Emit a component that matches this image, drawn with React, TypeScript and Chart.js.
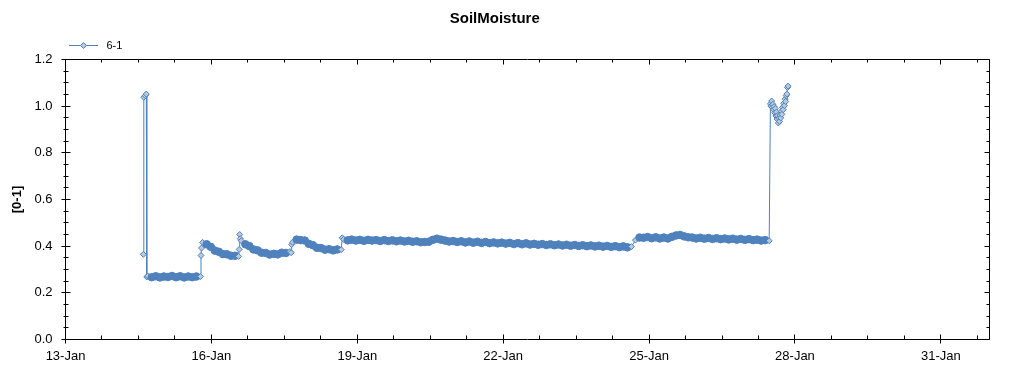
import React, { useEffect, useRef } from 'react';
import { Chart, registerables } from 'chart.js';

Chart.register(...registerables);

// ---------- text ----------
const chartTitle = 'SoilMoisture';
const seriesLabel = '6-1';
const yAxisTitle = '[0-1]';
const monthName = 'Jan';

// ---------- axes (day of January) ----------
const xMinDay = 13;
const xMaxDay = 32;
const xTickDays = [13, 16, 19, 22, 25, 28, 31];
const xMinorStepDays = 0.75;
const yMin = 0;
const yMax = 1.2;
const yStep = 0.2;
const yMinorStep = 0.05;

// ---------- data ----------
// isolated readings around rapid changes: day of January, value
const jumpDays = [14.600, 14.6105, 14.640, 14.6615, 14.672, 15.775, 15.786, 15.797, 16.560, 16.572, 16.582, 16.593, 17.640, 17.651, 18.690];
const jumpValues = [0.365, 1.038, 1.045, 1.052, 0.268, 0.270, 0.360, 0.392, 0.356, 0.386, 0.450, 0.432, 0.372, 0.407, 0.436];

// regular readings every 2 hours
const sampleHours = 2;
const bandStartDays = [14.690, 15.820, 16.615, 17.670, 18.720];
const band1 = [0.272, 0.267, 0.271, 0.266, 0.270, 0.268, 0.272, 0.267, 0.271, 0.266, 0.270, 0.267, 0.270];
const band2 = [0.416, 0.408, 0.397, 0.381, 0.376, 0.366, 0.365, 0.359, 0.359];
const band3 = [0.423, 0.408, 0.400, 0.386, 0.382, 0.372, 0.371, 0.364, 0.367, 0.365, 0.372, 0.371, 0.377];
const band4 = [0.417, 0.428, 0.426, 0.424, 0.410, 0.404, 0.393, 0.392, 0.385, 0.387, 0.382, 0.386, 0.385];
const band5 = [
  0.429, 0.425, 0.428, 0.424, 0.427, 0.423, 0.427, 0.424, 0.426, 0.422,
  0.426, 0.422, 0.425, 0.421, 0.424, 0.420, 0.423, 0.419, 0.421, 0.417, 0.418,
  0.419, 0.427, 0.432, 0.428, 0.424, 0.420,
  0.422, 0.418, 0.421, 0.416, 0.420, 0.415, 0.419, 0.414, 0.418, 0.413, 0.416, 0.412,
  0.415, 0.411, 0.414, 0.409, 0.413, 0.408, 0.412, 0.407, 0.410, 0.406, 0.409, 0.405,
  0.408, 0.404, 0.407, 0.403, 0.406, 0.402, 0.405, 0.401, 0.404, 0.400, 0.403, 0.399,
  0.402, 0.398, 0.401, 0.397, 0.400, 0.396, 0.399, 0.395,
  0.398, 0.426, 0.437, 0.436,
  0.439, 0.434, 0.438, 0.433, 0.437, 0.433,
  0.440, 0.446, 0.448, 0.442, 0.438,
  0.437, 0.433, 0.436, 0.432, 0.435, 0.431, 0.434, 0.430, 0.433, 0.429,
  0.432, 0.428, 0.431, 0.427, 0.430, 0.426, 0.428, 0.424, 0.426, 0.423,
];

// final burst of readings
const burstStartDay = 27.495;
const burstStepHours = 0.3;
const burstValues = [
  1.010, 1.000, 1.022, 0.995, 1.008, 0.985, 0.998, 0.972, 0.990, 0.958,
  0.975, 0.945, 0.960, 0.928, 0.948, 0.935, 0.962, 0.950, 0.978, 0.965,
  0.995, 0.985, 1.012, 1.002, 1.030, 1.020, 1.045, 1.052, 1.080, 1.086,
];

// ---------- style ----------
const BLUE = '#4f81bd';
const LIGHT = '#b9cbdb';
const FONT = '"Liberation Sans", Arial, Helvetica, sans-serif';

function buildPoints() {
  const pts: { x: number; y: number }[] = [];
  jumpDays.forEach((d, i) => pts.push({ x: d, y: jumpValues[i] }));
  const bands = [band1, band2, band3, band4, band5];
  bands.forEach((vals, b) =>
    vals.forEach((v, i) => pts.push({ x: bandStartDays[b] + (i * sampleHours) / 24, y: v }))
  );
  burstValues.forEach((v, i) => pts.push({ x: burstStartDay + (i * burstStepHours) / 24, y: v }));
  pts.sort((a, b) => a.x - b.x);
  return pts;
}

const snap = (v: number) => Math.floor(v) + 0.5;

const frameAxesPlugin = {
  id: 'frameAxes',
  afterDatasetsDraw(chart: any) {
    const { ctx, chartArea, scales } = chart;
    const xs = scales.x;
    const ys = scales.y;
    const L = snap(chartArea.left);
    const R = snap(chartArea.right);
    const T = snap(chartArea.top);
    const B = snap(chartArea.bottom);
    ctx.save();
    ctx.strokeStyle = '#000';
    ctx.lineWidth = 1;
    ctx.beginPath();
    ctx.moveTo(L, T);
    ctx.lineTo(R, T);
    ctx.lineTo(R, B);
    ctx.lineTo(L, B);
    ctx.closePath();
    const nX = Math.round((xMaxDay - xMinDay) / xMinorStepDays);
    for (let k = 0; k <= nX; k++) {
      const v = xMinDay + k * xMinorStepDays;
      if (v > xMaxDay + 1e-9) break;
      const px = snap(xs.getPixelForValue(v));
      const major = xTickDays.some((d) => Math.abs(d - v) < 1e-6);
      if (major) {
        ctx.moveTo(px, B - 5);
        ctx.lineTo(px, B + 4);
        ctx.moveTo(px, T);
        ctx.lineTo(px, T + 5);
      } else {
        ctx.moveTo(px, B - 4);
        ctx.lineTo(px, B);
        ctx.moveTo(px, T);
        ctx.lineTo(px, T + 3);
      }
    }
    const nY = Math.round((yMax - yMin) / yMinorStep);
    for (let k = 0; k <= nY; k++) {
      const v = yMin + k * yMinorStep;
      const py = snap(ys.getPixelForValue(v));
      const major = k % Math.round(yStep / yMinorStep) === 0;
      if (major) {
        ctx.moveTo(L - 4, py);
        ctx.lineTo(L + 5, py);
        ctx.moveTo(R - 5, py);
        ctx.lineTo(R, py);
      } else {
        ctx.moveTo(L - 2, py);
        ctx.lineTo(L + 3, py);
        ctx.moveTo(R - 3, py);
        ctx.lineTo(R, py);
      }
    }
    ctx.stroke();
    ctx.restore();
  },
};

const legendNudgePlugin = {
  id: 'legendNudge',
  afterLayout(chart: any) {
    if (chart.legend) {
      chart.legend.top += 1.5;
      chart.legend.bottom += 1.5;
    }
  },
};

function makeLegendSymbol() {
  const c = document.createElement('canvas');
  c.width = 32;
  c.height = 9;
  const g = c.getContext('2d')!;
  g.strokeStyle = BLUE;
  g.lineWidth = 1;
  g.beginPath();
  g.moveTo(0, 4.5);
  g.lineTo(29, 4.5);
  g.stroke();
  g.beginPath();
  g.moveTo(14.5, 1.5);
  g.lineTo(17.5, 4.5);
  g.lineTo(14.5, 7.5);
  g.lineTo(11.5, 4.5);
  g.closePath();
  g.fillStyle = LIGHT;
  g.fill();
  g.stroke();
  return c;
}

export default function App() {
  const canvasRef = useRef<HTMLCanvasElement | null>(null);

  useEffect(() => {
    if (!canvasRef.current) return;
    Chart.defaults.font.family = FONT;
    Chart.defaults.color = '#000';
    const points = buildPoints();
    const legendSymbol = makeLegendSymbol();

    // a reading sits inside a dense run when both neighbours are a few pixels away horizontally
    const inDenseRun = (c: any) => {
      const i = c.dataIndex;
      const xs = c.chart.scales?.x;
      const ys = c.chart.scales?.y;
      if (i === undefined || !xs || !ys) return false;
      const data = c.dataset.data;
      const near = (j: number) => {
        if (j < 0 || j >= data.length) return false;
        const dx = Math.abs(xs.getPixelForValue(data[j].x) - xs.getPixelForValue(data[i].x));
        const dy = Math.abs(ys.getPixelForValue(data[j].y) - ys.getPixelForValue(data[i].y));
        return dx >= 2 && dy < 4.5;
      };
      return near(i - 1) && near(i + 1);
    };

    const chart = new Chart(canvasRef.current, {
      type: 'line',
      data: {
        datasets: [
          {
            label: seriesLabel,
            data: points,
            borderColor: BLUE,
            borderWidth: 1,
            pointStyle: (c: any) => (inDenseRun(c) ? 'circle' : 'rectRot'),
            pointRadius: (c: any) => (inDenseRun(c) ? 3.8 : 3),
            pointBorderWidth: 1,
            pointBorderColor: BLUE,
            pointBackgroundColor: (c: any) => (inDenseRun(c) ? BLUE : LIGHT),
            tension: 0,
          } as any,
        ],
      },
      options: {
        animation: false,
        responsive: false,
        maintainAspectRatio: false,
        events: [],
        layout: { padding: { left: 0, right: 34.5, top: 0, bottom: 0 } },
        plugins: {
          tooltip: { enabled: false },
          title: {
            display: true,
            text: chartTitle,
            color: '#000',
            font: { family: FONT, size: 15, weight: 'bold' },
            padding: { top: 10, bottom: 7 },
          },
          legend: {
            display: true,
            position: 'top',
            align: 'start',
            fullSize: false,
            labels: {
              usePointStyle: true,
              pointStyle: legendSymbol as any,
              pointStyleWidth: 32,
              padding: 3.5,
              color: '#000',
              font: { family: FONT, size: 11 },
            },
          } as any,
        },
        scales: {
          x: {
            type: 'linear',
            position: 'bottom',
            min: xMinDay,
            max: xMaxDay,
            grid: { display: false, drawTicks: false },
            border: { display: false },
            ticks: {
              autoSkip: false,
              maxRotation: 0,
              padding: 9,
              color: '#000',
              font: { family: FONT, size: 13 },
              callback: (v: any) => `${v}-${monthName}`,
            },
            afterBuildTicks: (s: any) => {
              s.ticks = xTickDays.map((v) => ({ value: v }));
            },
            afterFit: (s: any) => {
              s.height = 35.5;
            },
          },
          y: {
            type: 'linear',
            min: yMin,
            max: yMax,
            grid: { display: false, drawTicks: false },
            border: { display: false },
            ticks: {
              stepSize: yStep,
              padding: 13,
              color: '#000',
              font: { family: FONT, size: 13 },
              callback: (v: any) => Number(v).toFixed(1),
            },
            title: {
              display: true,
              text: yAxisTitle,
              color: '#000',
              font: { family: FONT, size: 13, weight: 'bold' },
              padding: { top: 10, bottom: 0 },
            },
            afterFit: (s: any) => {
              s.width = 65.5;
            },
          },
        },
      } as any,
      plugins: [frameAxesPlugin, legendNudgePlugin],
    });
    return () => chart.destroy();
  }, []);

  return (
    <div style={{ position: 'absolute', left: 0, top: 0, width: 1024, height: 375, background: '#fff' }}>
      <canvas ref={canvasRef} width={1024} height={375} style={{ display: 'block' }} />
    </div>
  );
}
